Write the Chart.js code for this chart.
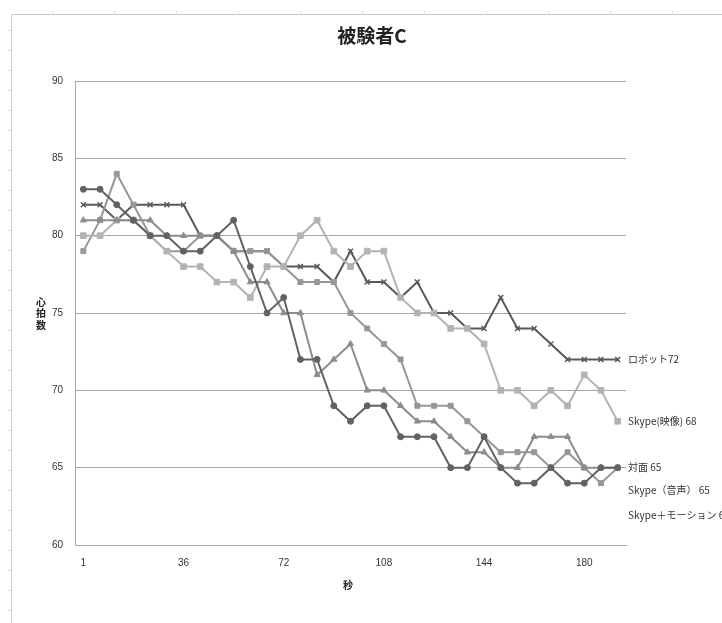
<!DOCTYPE html>
<html>
<head>
<meta charset="utf-8">
<script src="https://cdn.jsdelivr.net/npm/chart.js@4/dist/chart.umd.min.js"></script>
<style>
  html, body { margin: 0; padding: 0; background: #ffffff; }
  #wrap { position: relative; width: 722px; height: 623px; overflow: hidden; }
  canvas { display: block; }
</style>
</head>
<body>
<div id="wrap"><canvas id="c" width="722" height="623"></canvas></div>
<script>
// Elapsed time (seconds) for each sample
const seconds = [1, 6, 12, 18, 24, 30, 36, 42, 48, 54, 60, 66, 72, 78, 84, 90, 96,
                 102, 108, 114, 120, 126, 132, 138, 144, 150, 156, 162, 168, 174, 180, 186, 192];

// Heart rate per condition
const taimen      = [83, 83, 82, 81, 80, 80, 79, 79, 80, 81, 78, 75, 76, 72, 72, 69, 68,
                     69, 69, 67, 67, 67, 65, 65, 67, 65, 64, 64, 65, 64, 64, 65, 65];
const skypeVoice  = [81, 81, 81, 81, 81, 80, 80, 80, 80, 79, 77, 77, 75, 75, 71, 72, 73,
                     70, 70, 69, 68, 68, 67, 66, 66, 65, 65, 67, 67, 67, 65, 65, 65];
const skypeVideo  = [80, 80, 81, 81, 80, 79, 78, 78, 77, 77, 76, 78, 78, 80, 81, 79, 78,
                     79, 79, 76, 75, 75, 74, 74, 73, 70, 70, 69, 70, 69, 71, 70, 68];
const skypeMotion = [79, 81, 84, 82, 80, 79, 79, 80, 80, 79, 79, 79, 78, 77, 77, 77, 75,
                     74, 73, 72, 69, 69, 69, 68, 67, 66, 66, 66, 65, 66, 65, 64, 65];
const robot       = [82, 82, 81, 82, 82, 82, 82, 80, 80, 79, 79, 79, 78, 78, 78, 77, 79,
                     77, 77, 76, 77, 75, 75, 74, 74, 76, 74, 74, 73, 72, 72, 72, 72];

// End-of-line captions
const endLabels = ['対面 65', 'Skype（音声） 65', 'Skype(映像) 68', 'Skype＋モーション 65', 'ロボット72'];
const yTicks = [60, 65, 70, 75, 80, 85, 90];

const JP = '"Noto Sans CJK JP", "Noto Sans", sans-serif';
const NUM = '"Liberation Sans Narrow", "Liberation Sans", "DejaVu Sans", sans-serif';

function series(label, data, color, style, radius) {
  return {
    label, data,
    borderColor: color, backgroundColor: color,
    borderWidth: 2, pointStyle: style, pointRadius: radius,
    pointBorderWidth: style === 'crossRot' ? 1.5 : 1,
    pointBackgroundColor: color, pointBorderColor: color,
    tension: 0, fill: false
  };
}

const datasets = [
  series('対面', taimen, '#626262', 'circle', 3),
  series('Skype（音声）', skypeVoice, '#8c8c8c', 'triangle', 3.5),
  series('Skype(映像)', skypeVideo, '#b3b3b3', 'rect', 4),
  series('Skype＋モーション', skypeMotion, '#979797', 'rect', 3.5),
  series('ロボット', robot, '#595959', 'crossRot', 3.5)
];
// pixel shift of each caption below its last point
const labelShift = [0, 23, 0, 48, 0];

const decor = {
  id: 'decor',
  beforeDraw(chart) {
    const ctx = chart.ctx;
    ctx.save();
    ctx.fillStyle = '#ffffff';
    ctx.fillRect(0, 0, chart.width, chart.height);
    // sheet frame
    ctx.strokeStyle = '#c9c9c9';
    ctx.lineWidth = 1;
    ctx.beginPath();
    ctx.moveTo(11.5, 623); ctx.lineTo(11.5, 14.5); ctx.lineTo(722, 14.5);
    ctx.stroke();
    ctx.strokeStyle = '#dddddd';
    ctx.beginPath();
    for (let x = 52; x < 722; x += 62) { ctx.moveTo(x + 0.5, 11); ctx.lineTo(x + 0.5, 14); }
    for (let y = 30; y < 623; y += 20) { ctx.moveTo(8, y + 0.5); ctx.lineTo(11, y + 0.5); }
    ctx.stroke();
    ctx.restore();
  },
  afterDraw(chart) {
    const ctx = chart.ctx;
    const ys = chart.scales.y;
    ctx.save();
    ctx.fillStyle = '#222222';
    ctx.textBaseline = 'middle';
    // title
    ctx.textAlign = 'center';
    ctx.font = 'bold 19px ' + JP;
    ctx.fillText('被験者C', 372, 36);
    // axis titles
    ctx.font = 'bold 10px ' + JP;
    ctx.fillText('秒', 348, 585);
    ['心', '拍', '数'].forEach((ch, i) => ctx.fillText(ch, 41, 302 + i * 11.5));
    // end captions
    ctx.textAlign = 'left';
    ctx.font = '10px ' + JP;
    ctx.fillStyle = '#333333';
    chart.data.datasets.forEach((ds, i) => {
      const last = ds.data[ds.data.length - 1];
      ctx.fillText(endLabels[i], 628, ys.getPixelForValue(last) + labelShift[i]);
    });
    ctx.restore();
  }
};

new Chart(document.getElementById('c'), {
  type: 'line',
  data: { labels: seconds, datasets },
  options: {
    responsive: false,
    animation: false,
    layout: { padding: { left: 0, top: 81, right: 96, bottom: 0 } },
    plugins: { legend: { display: false }, title: { display: false }, tooltip: { enabled: false } },
    scales: {
      x: {
        type: 'category',
        offset: true,
        afterFit(scale) { scale.height = 78; },
        grid: { display: false, drawTicks: false },
        border: { display: true, color: '#a6a6a6', width: 1 },
        ticks: {
          autoSkip: false, maxRotation: 0, padding: 12,
          color: '#333333', font: { family: NUM, size: 10 },
          callback(value, index) { return index % 6 === 0 ? seconds[index] : ''; }
        }
      },
      y: {
        min: 60, max: 90,
        afterFit(scale) { scale.width = 75; },
        afterBuildTicks(scale) { scale.ticks = yTicks.map(v => ({ value: v })); },
        grid: { color: '#a6a6a6', lineWidth: 1, drawTicks: false },
        border: { display: true, color: '#a6a6a6', width: 1 },
        ticks: { padding: 12, color: '#333333', font: { family: NUM, size: 10 } }
      }
    }
  },
  plugins: [decor]
});
</script>
</body>
</html>
